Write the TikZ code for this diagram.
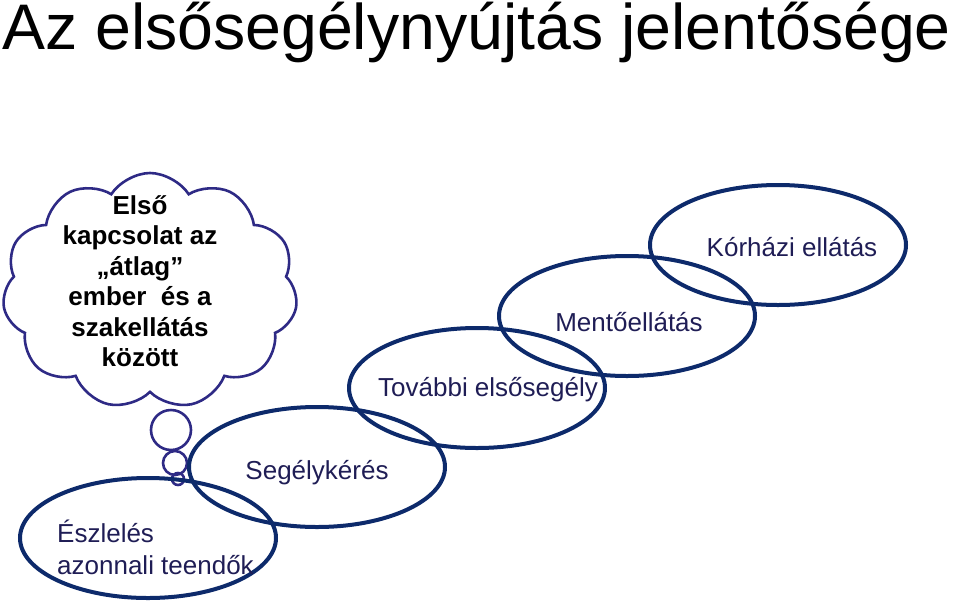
\documentclass[tikz,border=0pt]{standalone}
\usepackage{fontspec}
\setmainfont{Liberation Sans}
\usetikzlibrary{shapes.geometric,shapes.symbols}

\definecolor{navy}{HTML}{0D2A6B}
\definecolor{cloudblue}{HTML}{2E2A85}
\definecolor{labelblue}{HTML}{1F1D55}

\tikzset{
  stage/.style={ellipse, draw=navy, line width=4pt, minimum width=256pt, minimum height=120pt, inner sep=0pt},
  stagetext/.style={text=labelblue, font=\fontsize{26}{32}\selectfont, inner sep=0pt},
  bubble/.style={circle, draw=cloudblue, line width=2.6pt, inner sep=0pt}
}

\begin{document}
\begin{tikzpicture}[x=1pt, y=-1pt]
        \useasboundingbox (0,0) rectangle (960,608);
        \node[anchor=base west, inner sep=0pt, font=\fontsize{64.4}{70}\selectfont] (title) at (2,49) {Az elsősegélynyújtás jelentősége};

        % thought cloud
        \node[cloud, draw=cloudblue, line width=2.6pt, cloud puffs=11, cloud puff arc=115, aspect=1.25, minimum width=295pt, minimum height=236pt, inner sep=0pt] (cloud) at (150,291) {};
        \node[align=center, inner sep=0pt, font=\bfseries\fontsize{26}{30.5}\selectfont] (cloudtext) at (140,281) {Első\\kapcsolat az\\„átlag”\\ember~ és a\\szakellátás\\között};
        \node[bubble, minimum size=40pt] (b1) at (171,430) {};
        \node[bubble, minimum size=24pt] (b2) at (175,463) {};
        \node[bubble, minimum size=12pt] (b3) at (178,479) {};

        % steps
        \node[stage] (eszl) at (148,538) {};
        \node[stage] (seg) at (317,467) {};
        \node[stage] (tov) at (477,388) {};
        \node[stage] (ment) at (627,316) {};
        \node[stage] (kor) at (778,245) {};

        \node[stagetext, align=left, anchor=west] (eszltext) at (57,547) {Észlelés\\azonnali teendők};
        \node[stagetext] (segtext) at (317,473) {Segélykérés};
        \node[stagetext] (tovtext) at (488,390) {További elsősegély};
        \node[stagetext] (menttext) at (629,322) {Mentőellátás};
        \node[stagetext] (kortext) at (792,247) {Kórházi ellátás};
    \end{tikzpicture}
\end{document}
